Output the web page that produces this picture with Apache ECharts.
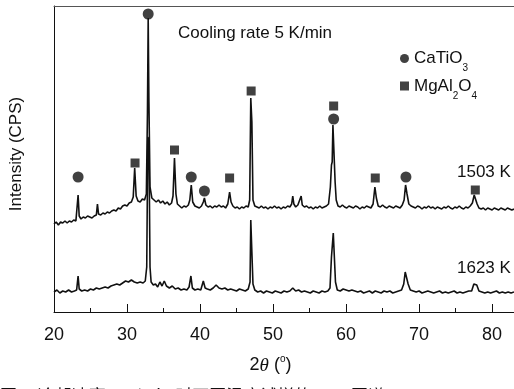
<!DOCTYPE html>
<html>
<head>
<meta charset="utf-8">
<script src="https://cdn.jsdelivr.net/npm/echarts@6.0.0/dist/echarts.min.js"></script>
<style>
  html, body { margin: 0; padding: 0; background: #fff; }
  #chart { width: 514px; height: 389px; }
</style>
</head>
<body>
<div id="chart"></div>
<script>
// 2theta range and ticks
const xMin = 20
const xMax = 83
const xStep = 10

// XRD scans, [2theta, intensity] (arbitrary units)
const scan1503 = [
  [20.0, 88], [20.3, 90], [20.6, 87], [20.9, 90], [21.2, 89], [21.5, 91], [21.8, 89], [22.1, 91], [22.4, 90], [22.7, 92],
  [23.0, 91], [23.2, 93], [23.3, 117], [23.45, 96], [23.7, 93], [24.0, 95], [24.3, 94], [24.6, 96], [24.9, 95], [25.2, 94],
  [25.5, 96], [25.8, 97], [25.95, 108], [26.1, 98], [26.4, 97], [26.7, 99], [27.0, 98], [27.3, 100], [27.6, 99], [27.9, 101],
  [28.2, 102], [28.5, 101], [28.8, 104], [29.1, 103], [29.4, 106], [29.7, 107], [30.0, 106], [30.3, 109], [30.6, 110], [30.85, 115],
  [31.05, 144], [31.25, 116], [31.5, 111], [31.8, 110], [32.1, 113], [32.4, 112], [32.65, 118], [32.8, 200], [32.9, 294], [33.0, 210],
  [33.15, 125], [33.4, 114], [33.7, 112], [34.0, 110], [34.3, 112], [34.6, 109], [34.9, 111], [35.2, 108], [35.5, 110], [35.8, 107],
  [36.1, 109], [36.3, 116], [36.5, 154], [36.7, 118], [36.9, 108], [37.2, 106], [37.5, 104], [37.8, 106], [38.1, 105], [38.4, 107],
  [38.6, 112], [38.8, 127], [39.0, 110], [39.3, 106], [39.6, 105], [39.9, 104], [40.2, 106], [40.45, 110], [40.6, 114], [40.8, 107],
  [41.1, 105], [41.4, 106], [41.7, 104], [42.0, 106], [42.3, 105], [42.6, 107], [42.9, 105], [43.2, 106], [43.5, 104], [43.8, 108],
  [44.05, 120], [44.25, 110], [44.5, 106], [44.8, 104], [45.1, 105], [45.4, 103], [45.7, 105], [46.0, 104], [46.3, 106], [46.6, 105],
  [46.8, 112], [46.95, 214], [47.1, 190], [47.25, 112], [47.5, 106], [47.8, 105], [48.1, 104], [48.4, 106], [48.7, 104], [49.0, 105],
  [49.3, 103], [49.6, 105], [49.9, 104], [50.2, 106], [50.5, 104], [50.8, 105], [51.1, 103], [51.4, 105], [51.7, 104], [52.0, 106],
  [52.3, 105], [52.55, 108], [52.7, 116], [52.85, 108], [53.1, 105], [53.4, 107], [53.6, 108], [53.85, 116], [54.0, 107], [54.3, 105],
  [54.6, 106], [54.9, 104], [55.2, 105], [55.5, 103], [55.8, 105], [56.1, 104], [56.4, 106], [56.7, 104], [57.0, 105], [57.3, 106],
  [57.6, 108], [57.85, 125], [58.0, 147], [58.1, 150], [58.2, 187], [58.35, 186], [58.5, 130], [58.65, 112], [58.9, 106], [59.2, 105],
  [59.5, 107], [59.8, 105], [60.1, 104], [60.4, 106], [60.7, 105], [61.0, 104], [61.3, 106], [61.6, 105], [61.9, 103], [62.2, 105],
  [62.5, 104], [62.8, 106], [63.1, 105], [63.4, 104], [63.7, 108], [63.95, 125], [64.15, 114], [64.4, 106], [64.7, 105], [65.0, 107],
  [65.3, 105], [65.6, 104], [65.9, 106], [66.2, 105], [66.5, 104], [66.8, 106], [67.1, 105], [67.4, 104], [67.7, 107], [67.95, 112],
  [68.15, 127], [68.35, 118], [68.6, 108], [68.9, 106], [69.2, 105], [69.5, 104], [69.8, 106], [70.1, 105], [70.4, 103], [70.7, 105],
  [71.0, 104], [71.3, 106], [71.6, 104], [71.9, 105], [72.2, 103], [72.5, 105], [72.8, 104], [73.1, 103], [73.4, 105], [73.7, 104],
  [74.0, 106], [74.3, 104], [74.6, 103], [74.9, 105], [75.2, 104], [75.5, 106], [75.8, 104], [76.1, 103], [76.4, 105], [76.7, 104],
  [77.0, 106], [77.3, 109], [77.55, 117], [77.75, 115], [77.95, 108], [78.2, 104], [78.5, 103], [78.8, 104], [79.1, 102], [79.4, 104],
  [79.7, 103], [80.0, 102], [80.3, 104], [80.6, 103], [80.9, 102], [81.2, 104], [81.5, 103], [81.8, 102], [82.1, 104], [82.4, 103],
  [82.7, 102], [83.0, 103]
]

const scan1623 = [
  [20.0, 20], [20.4, 22], [20.8, 19], [21.2, 21], [21.6, 20], [22.0, 22], [22.4, 20], [22.8, 21], [23.1, 22], [23.3, 36],
  [23.45, 23], [23.8, 21], [24.2, 22], [24.6, 21], [25.0, 23], [25.4, 22], [25.8, 24], [26.2, 23], [26.6, 24], [27.0, 25],
  [27.4, 24], [27.8, 26], [28.2, 27], [28.6, 28], [29.0, 27], [29.4, 29], [29.8, 31], [30.2, 30], [30.6, 32], [31.0, 30],
  [31.4, 29], [31.8, 30], [32.2, 29], [32.5, 31], [32.7, 45], [32.85, 175], [33.0, 172], [33.15, 45], [33.3, 30], [33.6, 27],
  [33.9, 28], [34.2, 25], [34.5, 30], [34.8, 26], [35.1, 31], [35.4, 26], [35.8, 24], [36.2, 26], [36.6, 23], [37.0, 24],
  [37.4, 22], [37.8, 23], [38.2, 22], [38.5, 25], [38.75, 36], [38.95, 24], [39.3, 22], [39.7, 23], [40.1, 22], [40.45, 31],
  [40.7, 24], [41.0, 23], [41.4, 22], [41.8, 24], [42.2, 27], [42.6, 24], [43.0, 23], [43.4, 24], [43.8, 22], [44.2, 23],
  [44.6, 22], [45.0, 21], [45.4, 23], [45.8, 22], [46.2, 21], [46.6, 23], [46.85, 30], [46.95, 92], [47.1, 92], [47.25, 28],
  [47.5, 22], [47.9, 20], [48.3, 21], [48.7, 19], [49.1, 21], [49.5, 20], [49.9, 19], [50.3, 21], [50.7, 20], [51.1, 19],
  [51.5, 21], [51.9, 20], [52.3, 21], [52.7, 24], [53.1, 21], [53.5, 22], [53.9, 20], [54.3, 21], [54.7, 20], [55.1, 19],
  [55.5, 21], [55.9, 20], [56.3, 19], [56.7, 21], [57.1, 20], [57.5, 21], [57.8, 24], [58.0, 55], [58.1, 56], [58.25, 79],
  [58.4, 78], [58.55, 30], [58.8, 22], [59.2, 21], [59.6, 23], [60.0, 22], [60.4, 21], [60.8, 22], [61.2, 21], [61.6, 20],
  [62.0, 21], [62.4, 19], [62.8, 20], [63.2, 21], [63.6, 19], [64.0, 21], [64.4, 20], [64.8, 19], [65.2, 21], [65.6, 20],
  [66.0, 21], [66.4, 19], [66.8, 20], [67.2, 21], [67.6, 22], [67.9, 28], [68.1, 40], [68.3, 38], [68.5, 28], [68.8, 22],
  [69.2, 21], [69.6, 20], [70.0, 21], [70.4, 19], [70.8, 20], [71.2, 21], [71.6, 20], [72.0, 19], [72.4, 20], [72.8, 21],
  [73.2, 19], [73.6, 20], [74.0, 19], [74.4, 20], [74.8, 21], [75.2, 19], [75.6, 20], [76.0, 19], [76.4, 20], [76.8, 21],
  [77.2, 21], [77.5, 28], [77.7, 30], [77.9, 27], [78.2, 21], [78.6, 20], [79.0, 19], [79.4, 20], [79.8, 19], [80.2, 20],
  [80.6, 21], [81.0, 19], [81.4, 20], [81.8, 19], [82.2, 20], [82.6, 19], [83.0, 20]
]

// phase markers above the 1503 K peaks
const peaksCaTiO3 = [[23.3, 135], [32.9, 298], [38.8, 135], [40.6, 121], [58.3, 193], [68.2, 135]]
const peaksMgAl2O4 = [[31.1, 149], [36.5, 162], [44.05, 134], [47.0, 221], [58.3, 206], [64.0, 134], [77.7, 122]]

const font = '"Liberation Sans", Arial, sans-serif'
const ink = '#111'

const chart = echarts.init(document.getElementById('chart'), null, { renderer: 'canvas' })

chart.setOption({
  animation: false,
  grid: { left: 54, right: -1, top: 6, bottom: 77 },
  legend: {
    orient: 'vertical',
    left: 400,
    top: 50,
    padding: 0,
    itemGap: 4,
    itemWidth: 9,
    itemHeight: 9,
    data: [
      { name: 'CaTiO3', icon: 'circle' },
      { name: 'MgAl2O4', icon: 'rect' },
    ],
    formatter: (name) => name === 'CaTiO3' ? '{n|CaTiO}{s|3}' : '{n|MgAl}{s|2}{n|O}{s|4}',
    textStyle: {
      rich: {
        n: { fontFamily: font, fontSize: 17, color: ink, lineHeight: 32 },
        s: { fontFamily: font, fontSize: 10, color: ink, padding: [20, 0, 0, 0] },
      },
    },
  },
  xAxis: [{
    type: 'value',
    min: xMin,
    max: xMax,
    interval: xStep,
    name: '{a|2}{t|θ}{a| (}{o|o}{a|)}',
    nameLocation: 'middle',
    nameGap: 42,
    nameTextStyle: {
      padding: [0, 27, 0, 0],
      rich: {
        a: { fontFamily: font, fontSize: 18, color: ink },
        t: { fontFamily: '"Liberation Serif", serif', fontStyle: 'italic', fontSize: 19, color: ink },
        o: { fontFamily: font, fontSize: 10, color: ink, padding: [0, 0, 13, 0] },
      },
    },
    axisLine: { lineStyle: { color: ink, width: 1 } },
    axisTick: { inside: true, length: 8, lineStyle: { color: ink } },
    minorTick: { show: true, splitNumber: 2, length: 4, lineStyle: { color: ink } },
    axisLabel: { fontFamily: font, fontSize: 18, color: ink, margin: 14, showMaxLabel: false },
    splitLine: { show: false },
  }, {
    type: 'value',
    position: 'top',
    min: xMin,
    max: xMax,
    axisLine: { lineStyle: { color: '#555', width: 1 } },
    axisTick: { show: false },
    axisLabel: { show: false },
    splitLine: { show: false },
  }],
  yAxis: {
    type: 'value',
    min: 0,
    max: 306,
    name: 'Intensity (CPS)',
    nameLocation: 'middle',
    nameGap: 29,
    nameTextStyle: { fontFamily: font, fontSize: 17, color: ink, padding: [0, 0, 0, 10] },
    axisLine: { show: true, lineStyle: { color: ink, width: 1 } },
    axisTick: { show: false },
    axisLabel: { show: false },
    splitLine: { show: false },
  },
  graphic: [
    { type: 'text', x: 178, y: 33, style: { text: 'Cooling rate 5 K/min', font: '17px ' + font, fill: ink, verticalAlign: 'middle' } },
    { type: 'text', x: 457, y: 172, style: { text: '1503 K', font: '17px ' + font, fill: ink, verticalAlign: 'middle' } },
    { type: 'text', x: 457, y: 268, style: { text: '1623 K', font: '17px ' + font, fill: ink, verticalAlign: 'middle' } },
    { type: 'text', x: 0, y: 387, style: { text: '图 4  冷却速率 5 K/min 时不同温度试样的 XRD 图谱', font: '17px "Noto Sans CJK SC", sans-serif', fill: ink, verticalAlign: 'top' } },
  ],
  series: [
    {
      name: '1503 K',
      type: 'line',
      data: scan1503,
      showSymbol: false,
      lineStyle: { color: ink, width: 1.6 },
      z: 2,
    },
    {
      name: '1623 K',
      type: 'line',
      data: scan1623,
      showSymbol: false,
      lineStyle: { color: ink, width: 1.6 },
      z: 2,
    },
    {
      name: 'CaTiO3',
      type: 'scatter',
      symbol: 'circle',
      symbolSize: 11,
      data: peaksCaTiO3,
      itemStyle: { color: ink },
      z: 3,
    },
    {
      name: 'MgAl2O4',
      type: 'scatter',
      symbol: 'rect',
      symbolSize: 9,
      data: peaksMgAl2O4,
      itemStyle: { color: ink },
      z: 3,
    },
  ],
})
</script>
</body>
</html>
